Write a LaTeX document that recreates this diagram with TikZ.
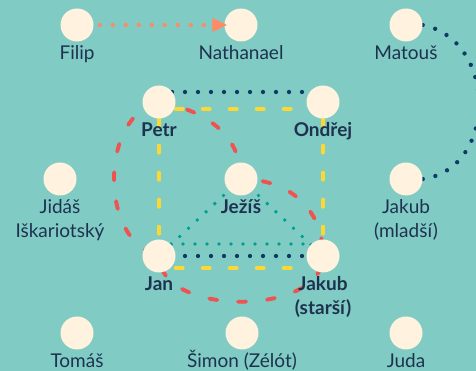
\documentclass[tikz,border=0pt]{standalone}
\usepackage{fontspec}
\setmainfont{Lato}
\usetikzlibrary{arrows.meta,backgrounds}
\pgfdeclarelayer{bgfill}
\pgfsetlayers{bgfill,background,main}
\definecolor{bgteal}{HTML}{80CBC4}
\definecolor{cream}{HTML}{FFF3E0}
\definecolor{ink}{HTML}{1E3250}
\definecolor{navyd}{HTML}{0D3B66}
\definecolor{teald}{HTML}{00A08C}
\definecolor{yel}{HTML}{FDD835}
\definecolor{redd}{HTML}{EF5350}
\definecolor{orng}{HTML}{FF8A65}
\tikzset{
  apostle/.style={circle, fill=cream, minimum size=33pt, inner sep=0pt},
  lbl/.style={anchor=base, text=ink, font=\fontsize{19}{24}\selectfont, align=center, inner sep=0pt},
  lblb/.style={anchor=base, text=ink, font=\fontsize{19}{24}\selectfont\bfseries, align=center, inner sep=0pt},
  navydots/.style={draw=navyd, line width=4.3pt, line cap=round, dash pattern=on 0pt off 13pt},
  tealdots/.style={draw=teald, line width=3.8pt, line cap=round, dash pattern=on 0pt off 12pt},
  yellowdash/.style={draw=yel, line width=4pt, line cap=round, dash pattern=on 7pt off 20pt},
  reddash/.style={draw=redd, line width=3.9pt, line cap=round, dash pattern=on 8pt off 21pt},
  orangedots/.style={draw=orng, line width=4.3pt, line cap=round, dash pattern=on 0pt off 13pt},
}
\begin{document}
\begin{tikzpicture}[x=1pt,y=1pt]
\useasboundingbox (0,0) rectangle (476,371);
\begin{pgfonlayer}{bgfill}
\fill[bgteal] (0,0) rectangle (476,371);
\end{pgfonlayer}
% circles
\node[apostle] (filip) at (77,346) {};
\node[apostle] (nath)  at (241,346) {};
\node[apostle] (mat)   at (406,346) {};
\node[apostle] (petr)  at (159,269) {};
\node[apostle] (ondrej) at (323,269) {};
\node[apostle] (jidas) at (60,192) {};
\node[apostle] (jezis) at (241,192) {};
\node[apostle] (jm)    at (406,192) {};
\node[apostle] (jan)   at (159,115) {};
\node[apostle] (js)    at (323,115) {};
\node[apostle] (tomas) at (77,38) {};
\node[apostle] (simon) at (242,38) {};
\node[apostle] (juda)  at (406,38) {};
% labels
\node[lbl]  (filipL) at ([yshift=-35pt]filip.center) {Filip};
\node[lbl]  (nathL)  at ([yshift=-35pt]nath.center) {Nathanael};
\node[lbl]  (matL)   at ([yshift=-35pt]mat.center) {Matouš};
\node[lblb] (petrL)  at ([yshift=-35pt]petr.center) {Petr};
\node[lblb] (ondrejL) at ([yshift=-35pt]ondrej.center) {Ondřej};
\node[lbl]  (jidasL) at ([yshift=-59pt]jidas.center) {Jidáš\\Iškariotský};
\node[lblb] (jezisL) at ([yshift=-35pt]jezis.center) {Ježíš};
\node[lbl]  (jmL)    at ([yshift=-59pt]jm.center) {Jakub\\(mladší)};
\node[lblb] (janL)   at ([yshift=-35pt]jan.center) {Jan};
\node[lblb] (jsL)    at ([yshift=-59pt]js.center) {Jakub\\(starší)};
\node[lbl]  (tomasL) at ([yshift=-35pt]tomas.center) {Tomáš};
\node[lbl]  (simonL) at ([yshift=-35pt]simon.center) {Šimon (Zélót)};
\node[lbl]  (judaL)  at ([yshift=-35pt]juda.center) {Juda};
% connectors
\begin{pgfonlayer}{background}
\draw[navydots] (mat.east) .. controls +(75,-15) and +(75,10) .. (jm.east);
\draw[navydots] ([yshift=10pt]petr.center) -- ([yshift=10pt]ondrej.center);
\draw[yellowdash] ([yshift=-7pt]petr.east) -- ([yshift=-7pt]ondrej.west);
\draw[yellowdash] (petr.south) -- (jan.north);
\draw[yellowdash] (ondrej.south) -- (js.north);
\draw[yellowdash] ([yshift=-12pt]jan.east) -- ([yshift=-12pt]js.west);
\draw[navydots] (jan.center) -- (js.center);
\draw[tealdots] ([yshift=12pt]jan.center) -- ([yshift=12pt]js.center);
\draw[tealdots] (jezis.center) -- (jan.center);
\draw[tealdots] (jezis.center) -- (js.center);
\draw[reddash] (petr.center) .. controls +(45,-8) and +(0,45) .. (jezis.center)
   .. controls +(45,0) and +(0,50) .. (js.center)
   .. controls +(0,-61) and +(0,-61) .. (jan.center)
   .. controls +(-60,14) and +(-60,-14) .. (petr.center);
\end{pgfonlayer}
\draw[orangedots, -{Triangle[length=15pt,width=13pt]}, shorten <=6pt, shorten >=-3pt] (filip) -- (nath);
\end{tikzpicture}
\end{document}
